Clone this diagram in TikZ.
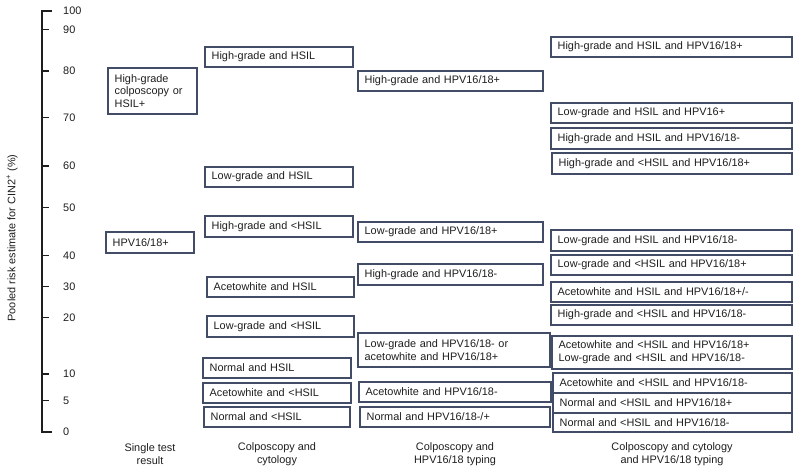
\documentclass[tikz,border=0pt]{standalone}
\usepackage{fontspec}
\setmainfont{Liberation Sans}
\usepackage{tikz}
\usetikzlibrary{positioning}
\definecolor{boxBlue}{RGB}{66,76,102}
\definecolor{textGray}{RGB}{30,30,30}
\tikzstyle{riskBlock} = [draw=boxBlue, line width=0.9pt, rectangle, anchor=north west,
    inner xsep=0.2cm, inner ysep=1pt, outer sep=0pt, align=left, text=textGray]
\tikzstyle{axisLine} = [draw, line width=1.6pt, textGray]
\tikzstyle{tickLine} = [draw, line width=1.1pt, textGray]
\tikzstyle{tickLabel} = [anchor=west, inner sep=0pt, text=textGray]
\tikzstyle{headLabel} = [align=center, inner sep=0pt, text=textGray]

\begin{document}
\begin{tikzpicture}[x=0.03cm, y=-0.03cm, font=\fontsize{9.3}{10.8}\selectfont]
      \useasboundingbox (0,0) rectangle (800,475);

      % Axis
      \path [axisLine] (42,11) -- (42,432);
      \path [tickLine] (41,11) -- (52,11);
      \path [tickLine] (41,432) -- (52,432);
      \node [tickLabel] (tick100) at (63,11) {100};
      \node [tickLabel] (tick0) at (63,432) {0};
      \foreach \val/\ypos in {90/29.5, 80/71, 70/117.5, 60/166, 50/207.5, 40/255.5, 30/286.5, 20/317.5, 10/374, 5/400.5} {
        \path [tickLine] (42,\ypos) -- (49,\ypos);
        \node [tickLabel] (tick\val) at (63,\ypos) {\val};
      }
      \node [headLabel, rotate=90] (axisTitle) at (12,238) {Pooled risk estimate for CIN2\textsuperscript{+} (\%)};

      % Single test result
      \node [riskBlock, text width=2.27cm, minimum height=1.38cm] (single0) at (108,68) {High-grade\\colposcopy or\\HSIL+};
      \node [riskBlock, text width=2.24cm, minimum height=0.63cm] (single1) at (106,232) {HPV16/18+};

      % Colposcopy and cytology
      \node [riskBlock, text width=4.04cm, minimum height=0.6cm] (colcyt0) at (205,47) {High-grade and HSIL};
      \node [riskBlock, text width=4.04cm, minimum height=0.6cm] (colcyt1) at (205,167) {Low-grade and HSIL};
      \node [riskBlock, text width=4.04cm, minimum height=0.63cm] (colcyt2) at (205,216) {High-grade and <HSIL};
      \node [riskBlock, text width=4.01cm, minimum height=0.6cm] (colcyt3) at (207,277) {Acetowhite and HSIL};
      \node [riskBlock, text width=4.01cm, minimum height=0.63cm] (colcyt4) at (207,316) {Low-grade and <HSIL};
      \node [riskBlock, text width=4.04cm, minimum height=0.6cm] (colcyt5) at (203,358) {Normal and HSIL};
      \node [riskBlock, text width=4.04cm, minimum height=0.6cm] (colcyt6) at (203,383) {Acetowhite and <HSIL};
      \node [riskBlock, text width=3.98cm, minimum height=0.6cm] (colcyt7) at (204,407) {Normal and <HSIL};

      % Colposcopy and HPV16/18 typing
      \node [riskBlock, text width=5.15cm, minimum height=0.6cm] (colhpv0) at (358,71) {High-grade and HPV16/18+};
      \node [riskBlock, text width=5.15cm, minimum height=0.6cm] (colhpv1) at (358,222) {Low-grade and HPV16/18+};
      \node [riskBlock, text width=5.15cm, minimum height=0.63cm] (colhpv2) at (358,264) {High-grade and HPV16/18-};
      \node [riskBlock, text width=5.36cm, minimum height=1.02cm] (colhpv3) at (358,333) {Low-grade and HPV16/18- or\\acetowhite and HPV16/18+};
      \node [riskBlock, text width=5.36cm, minimum height=0.6cm] (colhpv4) at (359,382) {Acetowhite and HPV16/18-};
      \node [riskBlock, text width=5.3cm, minimum height=0.6cm] (colhpv5) at (360,407) {Normal and HPV16/18-/+};

      % Colposcopy, cytology and HPV16/18 typing
      \node [riskBlock, text width=6.83cm, minimum height=0.6cm] (all0) at (551,37) {High-grade and HSIL and HPV16/18+};
      \node [riskBlock, text width=6.83cm, minimum height=0.6cm] (all1) at (551,103) {Low-grade and HSIL and HPV16+};
      \node [riskBlock, text width=6.83cm, minimum height=0.63cm] (all2) at (551,128) {High-grade and HSIL and HPV16/18-};
      \node [riskBlock, text width=6.8cm, minimum height=0.63cm] (all3) at (552,153) {High-grade and <HSIL and HPV16/18+};
      \node [riskBlock, text width=6.83cm, minimum height=0.63cm] (all4) at (551,230) {Low-grade and HSIL and HPV16/18-};
      \node [riskBlock, text width=6.83cm, minimum height=0.6cm] (all5) at (551,255) {Low-grade and <HSIL and HPV16/18+};
      \node [riskBlock, text width=6.83cm, minimum height=0.6cm] (all6) at (551,282) {Acetowhite and HSIL and HPV16/18+/-};
      \node [riskBlock, text width=6.83cm, minimum height=0.6cm] (all7) at (551,305) {High-grade and <HSIL and HPV16/18-};
      \node [riskBlock, text width=6.8cm, minimum height=0.99cm] (all8) at (552,336) {Acetowhite and <HSIL and HPV16/18+\\Low-grade and <HSIL and HPV16/18-};
      \node [riskBlock, text width=6.77cm, minimum height=0.6cm] (all9) at (553,373) {Acetowhite and <HSIL and HPV16/18-};
      \node [riskBlock, text width=6.77cm, minimum height=0.6cm, below=0pt of all9] (all10) {Normal and <HSIL and HPV16/18+};
      \node [riskBlock, text width=6.77cm, minimum height=0.57cm, below=0pt of all10] (all11) {Normal and <HSIL and HPV16/18-};

      % Column headings
      \node [headLabel] (headSingle) at (150,454) {Single test\\result};
      \node [headLabel] (headColcyt) at (277,454) {Colposcopy and\\cytology};
      \node [headLabel] (headColhpv) at (455,454) {Colposcopy and\\HPV16/18 typing};
      \node [headLabel] (headAll) at (672,454) {Colposcopy and cytology\\and HPV16/18 typing};

  \end{tikzpicture}
\end{document}
